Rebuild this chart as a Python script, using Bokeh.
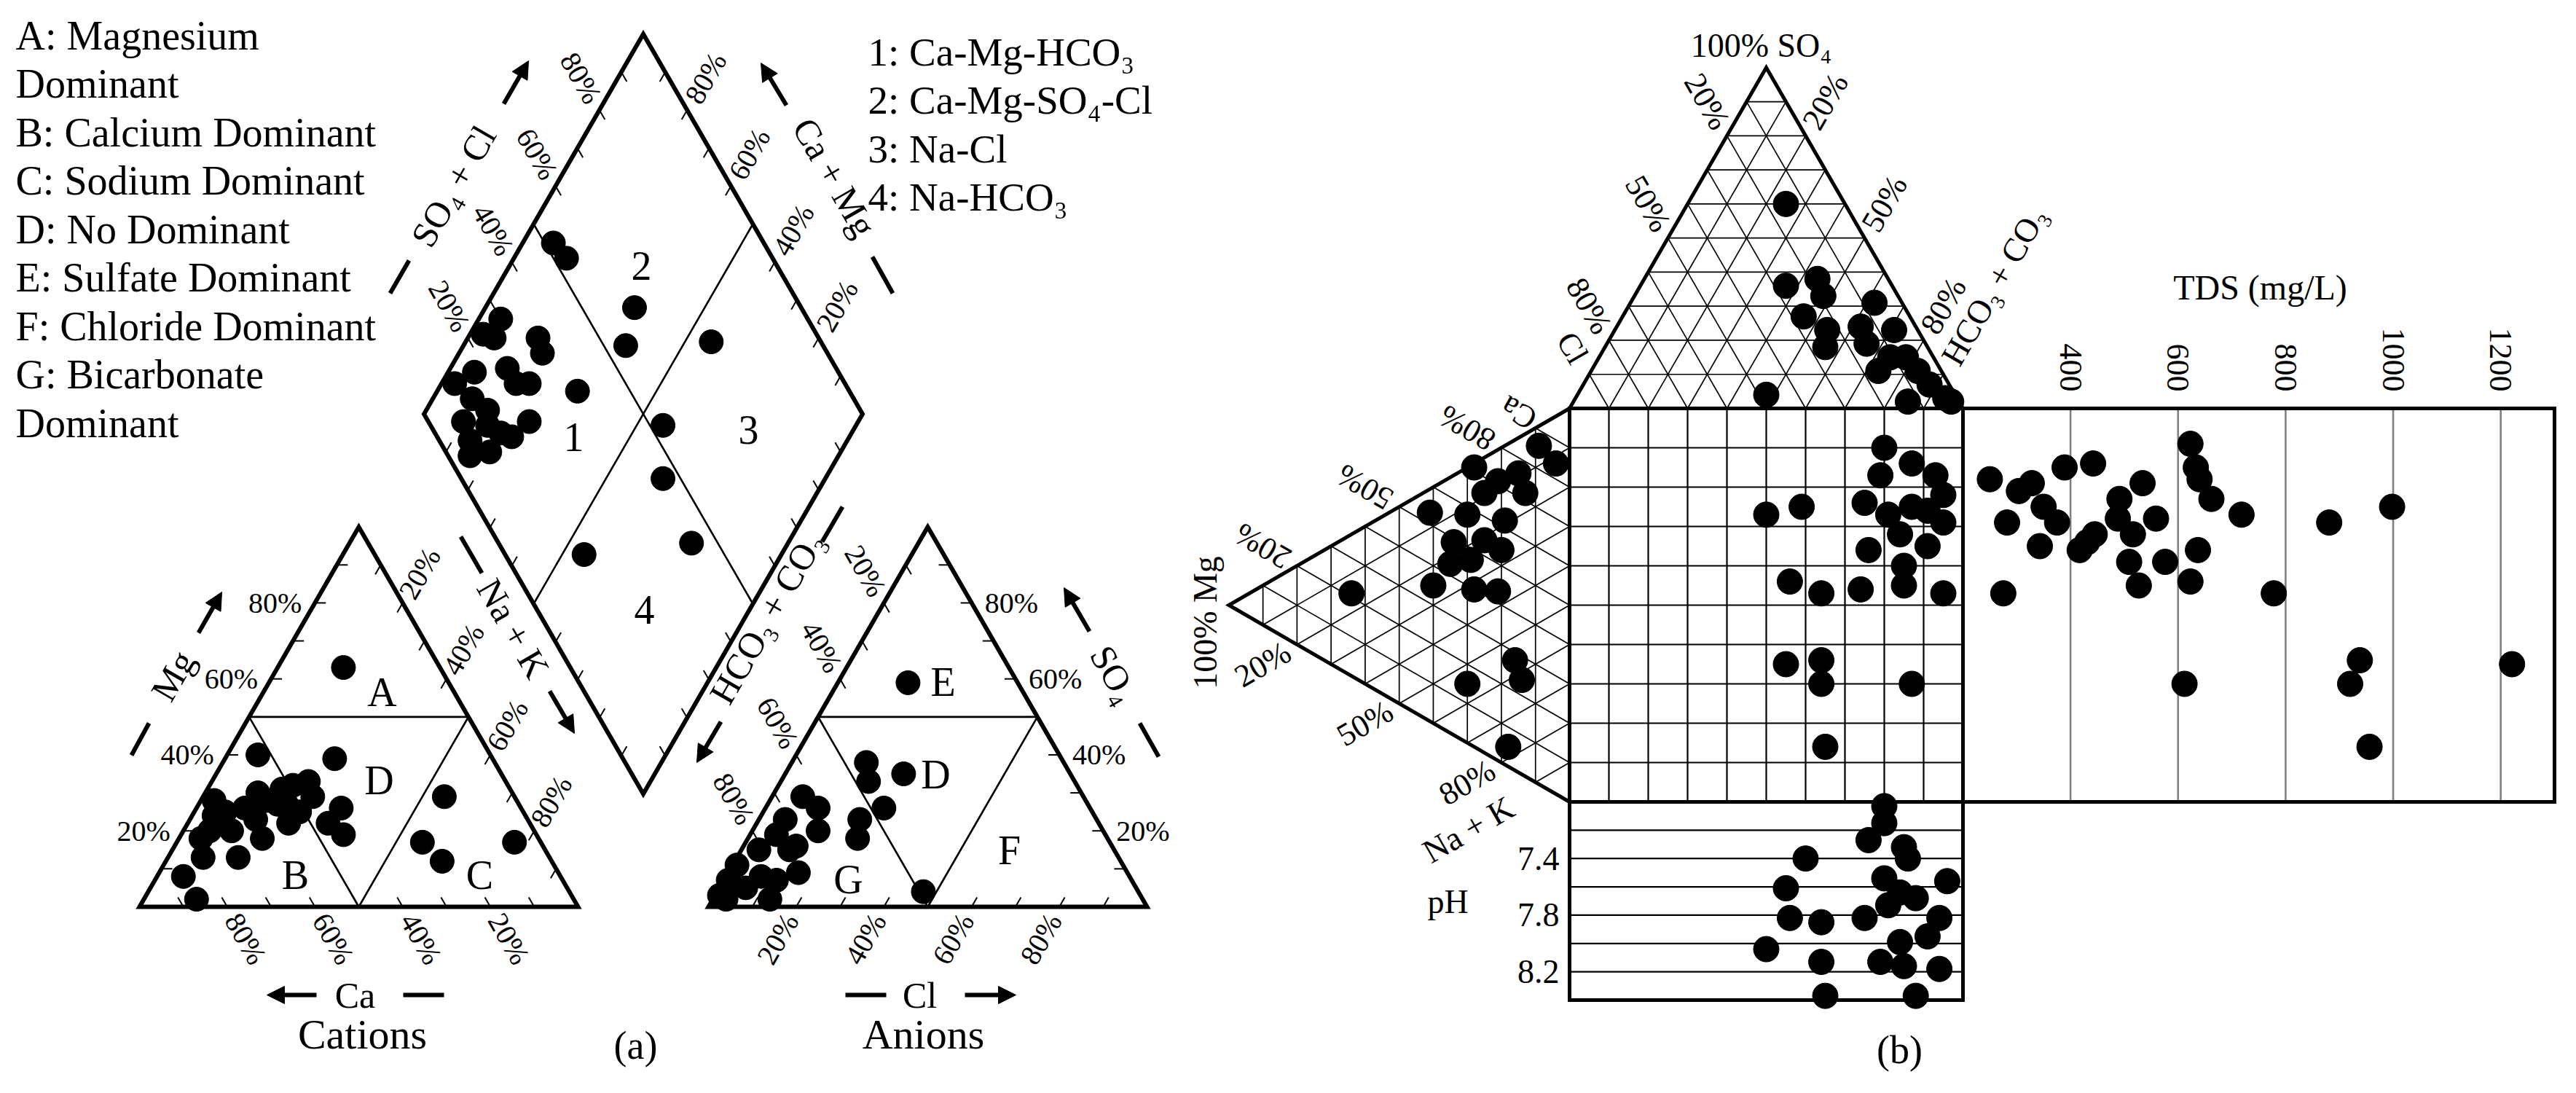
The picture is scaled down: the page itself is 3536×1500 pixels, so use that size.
import numpy as np
from bokeh.plotting import figure
from bokeh.models import Range1d, Arrow, NormalHead
from bokeh.core.properties import value
from bokeh.embed import file_html
from bokeh.resources import INLINE

FONT = "Liberation Serif"

# ---------------------------------------------------------------- data
# (a) Piper diagram -- cation triangle (% meq/L), Ca = 100 - Mg - (Na+K)
cat_mg = [63, 40, 39, 33, 32, 28, 29, 26, 19, 22, 18, 13, 28, 25, 26, 18, 13, 8, 2, 27,
          26, 20, 23, 29, 17, 12, 17, 22, 30, 31, 25, 24, 20]
cat_nak = [15, 7, 25, 22, 19, 15, 25, 33, 37, 23, 19, 16, 3, 7, 11, 5, 8, 6, 12, 18,
           21, 11, 15, 55, 56, 63, 77, 32, 12, 17, 24, 5, 6]
# anion triangle (% meq/L), HCO3+CO3 = 100 - SO4 - Cl
an_so4 = [59, 35, 38, 33, 26, 23, 18, 4, 29, 26, 20, 9, 23, 19, 15, 11, 2, 2, 5, 7, 15, 7, 3, 8, 16]
an_cl = [16, 27, 17, 20, 27, 23, 25, 47, 7, 12, 15, 16, 6, 6, 4, 1, 3, 13, 6, 12, 11, 1, 1, 8, 12]
# central diamond: Na+K (%) and SO4+Cl (%)
dia_nak = [7, 12, 34, 37, 56, 32, 56, 63, 78, 55, 5, 6, 16, 19, 6, 13, 20, 3, 9, 14,
           25, 23, 14, 16, 20, 20, 16, 17, 3, 10]
dia_so4cl = [52, 53, 62, 55, 75, 38, 53, 46, 44, 18, 30, 26, 36, 35, 17, 25, 28, 11, 13, 15,
             23, 17, 7, 5, 10, 15, 13, 25, 24, 8]

# (b) Durov diagram -- anion triangle (SO4 %, HCO3+CO3 %), Cl = rest
dur_so4 = [60, 36, 38, 33, 27, 23, 18, 4, 31, 24, 23, 11, 15, 7, 3, 2, 11, 19, 15, 2]
dur_hco3 = [25, 37, 44, 48, 46, 54, 56, 48, 62, 62, 71, 73, 78, 88, 94, 85, 83, 66, 74, 96]
# cation triangle (Mg %, Na+K %), Ca = rest
dur_mg = [41, 64, 40, 28, 21, 16, 14, 30, 18, 9, 4, 28, 21, 13, 30, 19, 34, 25, 35, 20, 29, 25, 15]
dur_nak = [6, 15, 25, 32, 36, 56, 62, 55, 77, 5, 12, 1, 8, 15, 12, 19, 17, 21, 22, 26, 24, 9, 9]
# central square: anion axis (%), cation axis (%)
sq_anion = [80, 79, 75, 76, 87, 93, 95, 95, 91, 85, 85, 95, 74, 64, 56, 50, 59, 81, 87, 84,
            91, 55, 64, 64, 87, 65]
sq_cation = [10, 17, 24, 36, 14, 17, 22, 29, 35, 40, 45, 47, 46, 47, 44, 27, 25, 27, 25, 32,
             26, 65, 64, 70, 70, 86]
# TDS panel: TDS (mg/L) against cation axis (%)
tds_mgL = [250, 304, 328, 282, 350, 375, 343, 389, 442, 417, 445, 491, 516, 534, 559, 509, 527,
           576, 623, 633, 640, 662, 637, 623, 718, 778, 881, 998, 275, 612, 938, 920, 1221, 956,
           488, 431]
tds_cation = [18, 21, 19, 29, 25, 29, 35, 15, 14, 36, 32, 23, 32, 19, 28, 39, 45, 39, 9, 15, 18,
              23, 36, 44, 27, 47, 29, 25, 47, 70, 64, 70, 65, 86, 28, 34]
# pH panel: anion axis (%) against pH
ph_anion = [80, 80, 76, 60, 85, 86, 55, 56, 64, 50, 64, 65, 88, 80, 96, 75, 88, 94, 91, 79,
            85, 94, 84, 84, 81]
ph_value = [7.03, 7.15, 7.27, 7.40, 7.32, 7.40, 7.61, 7.82, 7.85, 8.04, 8.13, 8.37, 8.37, 7.54,
            7.56, 7.82, 7.68, 7.82, 7.95, 8.13, 8.16, 8.18, 7.99, 7.64, 7.73]

piper_ticks = [20, 40, 60, 80]
durov_ticks = [20, 50, 80]
tds_ticks = [400, 600, 800, 1000, 1200]
tds_range = [200, 1300]
ph_range = [7.0, 8.4]
ph_lines = [7.2, 7.4, 7.6, 7.8, 8.0, 8.2]
ph_ticks = [7.4, 7.8, 8.2]
legend_zones = ["A: Magnesium", "Dominant", "B: Calcium Dominant", "C: Sodium Dominant",
                "D: No Dominant", "E: Sulfate Dominant", "F: Chloride Dominant",
                "G: Bicarbonate", "Dominant"]
legend_types = ["1: Ca-Mg-HCO\u2083", "2: Ca-Mg-SO\u2084-Cl", "3: Na-Cl", "4: Na-HCO\u2083"]

# ---------------------------------------------------------------- geometry
R3 = np.sqrt(3) / 2
S = 602.0
H = S * R3
CX0, BASE = 199.0, 1252.0
AX0 = 980.0
DBX = (CX0 + S + AX0) / 2
DBY = BASE - (AX0 - CX0 - S) * R3
DLX, DLY = DBX - S / 2, DBY - H

Q0X, Q0Y, D = 2162.0, 568.0, 540.0
DH = D * R3
T1X = 3514.0
PHB = 1380.0


def fr(a):
    return np.asarray(a, dtype=float) / 100.0


def cat_xy(mg, nak):
    return CX0 + S * (nak + mg / 2), BASE - H * mg


def an_xy(so4, cl):
    return AX0 + S * (cl + so4 / 2), BASE - H * so4


def dia_xy(a, b):
    return DLX + S / 2 * (a + b), DLY + H * (a - b)


def top_xy(so4, hco3):
    return Q0X + D * (hco3 + so4 / 2), Q0Y - DH * so4


def left_xy(mg, nak):
    return Q0X - DH * mg, Q0Y + D * (nak + mg / 2)


def sq_xy(ax, cy):
    return Q0X + D * ax, Q0Y + D * cy


def tds_x(t):
    t = np.asarray(t, dtype=float)
    return Q0X + D + (t - tds_range[0]) / (tds_range[1] - tds_range[0]) * (T1X - Q0X - D)


def ph_y(v):
    v = np.asarray(v, dtype=float)
    return Q0Y + D + (v - ph_range[0]) / (ph_range[1] - ph_range[0]) * (PHB - Q0Y - D)


p = figure(width=3520, height=1484, x_range=Range1d(8, 3528), y_range=Range1d(1492, 8),
           output_backend="svg", toolbar_location=None, min_border=0,
           x_axis_location=None, y_axis_location=None)
p.xgrid.visible = False
p.ygrid.visible = False
p.outline_line_color = None
p.background_fill_color = "white"


def segs(seglist, width, color="black"):
    xs = [[float(a[0]), float(b[0])] for a, b in seglist]
    ys = [[float(a[1]), float(b[1])] for a, b in seglist]
    p.multi_line(xs, ys, line_width=width, line_color=color, line_cap="butt")


def closed(pts, width):
    p.patch([float(q[0]) for q in pts], [float(q[1]) for q in pts], fill_color=None,
            line_color="black", line_width=width, line_join="miter")


def openline(pts, width):
    p.line([float(q[0]) for q in pts], [float(q[1]) for q in pts], line_color="black",
           line_width=width, line_join="miter")


def txt(xs, ys, labels, size, angle=0.0, align="center", baseline="middle"):
    p.text(x=[float(v) for v in np.atleast_1d(xs)], y=[float(v) for v in np.atleast_1d(ys)],
           text=list(labels), angle=float(np.deg2rad(angle)), text_align=align,
           text_baseline=baseline, text_font=value(FONT), text_font_size=f"{size}px",
           text_color="black")


def add(P, d, k):
    return (P[0] + d[0] * k, P[1] + d[1] * k)


def arrow(x0, y0, x1, y1):
    p.add_layout(Arrow(x_start=x0, y_start=y0, x_end=x1, y_end=y1, line_width=6,
                       line_color="black",
                       end=NormalHead(size=24, fill_color="black", line_color="black",
                                      line_width=1)))


UP_R = (0.5, -R3)    # screen direction reading at +60 deg
DN_R = (0.5, R3)     # reading at -60 deg
DN_L = (-0.5, R3)
UP_L = (-0.5, -R3)

# ---------------------------------------------------------------- (a) Piper
closed([cat_xy(0, 0), cat_xy(0, 1), cat_xy(1, 0)], 6)
closed([an_xy(0, 0), an_xy(0, 1), an_xy(1, 0)], 6)
closed([dia_xy(0, 0), dia_xy(0, 1), dia_xy(1, 1), dia_xy(1, 0)], 6)

zone = [(cat_xy(.5, 0), cat_xy(.5, .5)), (cat_xy(.5, 0), cat_xy(0, .5)), (cat_xy(.5, .5), cat_xy(0, .5)),
        (an_xy(.5, 0), an_xy(.5, .5)), (an_xy(.5, 0), an_xy(0, .5)), (an_xy(.5, .5), an_xy(0, .5)),
        (dia_xy(0, .5), dia_xy(1, .5)), (dia_xy(.5, 0), dia_xy(.5, 1))]
segs(zone, 2.6)

TK = 15
ticks = []
for t in np.arange(1, 10) / 10:
    P = cat_xy(t, 0); ticks.append((P, add(P, (1, 0), TK)))
    P = cat_xy(t, 1 - t); ticks.append((P, add(P, DN_L, TK)))
    P = cat_xy(0, t); ticks.append((P, add(P, UP_L, TK)))
    P = an_xy(0, t); ticks.append((P, add(P, UP_R, TK)))
    P = an_xy(t, 1 - t); ticks.append((P, add(P, (-1, 0), TK)))
    P = an_xy(t, 0); ticks.append((P, add(P, DN_R, TK)))
    P = dia_xy(0, t); ticks.append((P, add(P, DN_R, TK)))
    P = dia_xy(t, 1); ticks.append((P, add(P, DN_L, TK)))
    P = dia_xy(t, 0); ticks.append((P, add(P, UP_R, TK)))
    P = dia_xy(1, t); ticks.append((P, add(P, UP_L, TK)))
segs(ticks, 2)

# Piper tick labels
TS = 40
pt = fr(piper_ticks)
labs = [f"{v}%" for v in piper_ticks]
X, Y = cat_xy(pt, 0 * pt)
txt(X - 18, Y, labs, TS, 0, "right")
X, Y = cat_xy(1 - pt, pt)
txt(X + 10 * UP_R[0], Y + 10 * UP_R[1], labs, TS, 60, "left")
X, Y = cat_xy(0 * pt, 1 - pt)
txt(X + 14 * DN_R[0], Y + 14 * DN_R[1], labs, TS, -60, "left")
X, Y = an_xy(0 * pt, pt)
txt(X - 14 * UP_R[0], Y - 14 * UP_R[1], labs, TS, 60, "right")
X, Y = an_xy(pt, 1 - pt)
txt(X + 18, Y, labs, TS, 0, "left")
X, Y = an_xy(1 - pt, 0 * pt)
txt(X - 14 * DN_R[0], Y - 14 * DN_R[1], labs, TS, -60, "right")
X, Y = dia_xy(0 * pt, pt)
txt(X - 14 * DN_R[0], Y - 14 * DN_R[1], labs, TS, -60, "right")
X, Y = dia_xy(1 - pt, 0 * pt + 1)
txt(X + 14 * UP_R[0], Y + 14 * UP_R[1], labs, TS, 60, "left")

# axis titles, arrows and dashes
txt([245], [935], ["Mg"], 50, 60)
txt([495], [1373], ["Ca"], 50, 0)
txt([1270], [1373], ["Cl"], 50, 0)
txt([712], [870], ["Na + K"], 50, -60)
txt([1060], [855], ["HCO\u2083 + CO\u2083"], 50, 60)
txt([1537], [933], ["SO\u2084"], 50, -60)
txt([630], [263], ["SO\u2084 + Cl"], 50, 60)
txt([1153], [251], ["Ca + Mg"], 50, -60)
arrow(280, 876, 312, 820)
arrow(442, 1373, 374, 1373)
arrow(1332, 1373, 1402, 1373)
arrow(762, 956, 796, 1014)
arrow(997, 998, 964, 1054)
arrow(1503, 874, 1468, 814)
arrow(699, 150, 733, 91)
arrow(1087, 152, 1052, 94)
segs([((188, 1044), (212, 1000)), ((561, 1373), (617, 1373)), ((1168, 1373), (1224, 1373)),
      ((640, 744), (669, 794)), ((1136, 751), (1164, 703)), ((1572, 1000), (1598, 1046)),
      ((543, 410), (569, 365)), ((1205, 360), (1233, 410))], 6)

# zone letters
txt([532, 413, 666, 528, 1302, 1292, 1393, 1172], [957, 1208, 1208, 1078, 943, 1070, 1174, 1214],
    ["A", "B", "C", "D", "E", "D", "F", "G"], 56)
txt([795, 888, 1035, 892], [607, 372, 597, 844], ["1", "2", "3", "4"], 56)

# legends
txt([29] * len(legend_zones), [56 + 66.5 * i for i in range(len(legend_zones))], legend_zones, 56,
    0, "left")
txt([1199] * len(legend_types), [79 + 66.3 * i for i in range(len(legend_types))], legend_types, 55,
    0, "left")
txt([505, 1275], [1427, 1427], ["Cations", "Anions"], 58)
txt([880], [1442], ["(a)"], 54)

# data points (a)
X, Y = cat_xy(fr(cat_mg), fr(cat_nak))
p.scatter(X, Y, size=33, color="black")
X, Y = an_xy(fr(an_so4), fr(an_cl))
p.scatter(X, Y, size=33, color="black")
X, Y = dia_xy(fr(dia_nak), fr(dia_so4cl))
p.scatter(X, Y, size=33, color="black")

# ---------------------------------------------------------------- (b) Durov
grid = []
for t in np.arange(1, 10) / 10:
    grid.append((top_xy(t, 0), top_xy(t, 1 - t)))
    grid.append((top_xy(0, t), top_xy(1 - t, t)))
    grid.append((top_xy(0, 1 - t), top_xy(1 - t, 0)))
    grid.append((left_xy(t, 0), left_xy(t, 1 - t)))
    grid.append((left_xy(0, t), left_xy(1 - t, t)))
    grid.append((left_xy(0, 1 - t), left_xy(1 - t, 0)))
segs(grid, 1.7)
sq = []
for t in np.arange(1, 10) / 10:
    sq.append((sq_xy(t, 0), sq_xy(t, 1)))
    sq.append((sq_xy(0, t), sq_xy(1, t)))
segs(sq, 2.2)
segs([((Q0X, float(ph_y(v))), (Q0X + D, float(ph_y(v)))) for v in ph_lines], 2.2)
segs([((float(tds_x(t)), Q0Y), (float(tds_x(t)), Q0Y + D)) for t in tds_ticks], 2.6, "#808080")

openline([top_xy(0, 0), top_xy(1, 0), top_xy(0, 1)], 5)
openline([left_xy(0, 0), left_xy(1, 0), left_xy(0, 1)], 5)
closed([(Q0X, Q0Y), (Q0X + D, Q0Y), (Q0X + D, Q0Y + D), (Q0X, Q0Y + D)], 5)
openline([(Q0X + D, Q0Y), (T1X, Q0Y), (T1X, Q0Y + D), (Q0X + D, Q0Y + D)], 5)
openline([(Q0X, Q0Y + D), (Q0X, PHB), (Q0X + D, PHB), (Q0X + D, Q0Y + D)], 5)

dt = fr(durov_ticks)
dl = [f"{v}%" for v in durov_ticks]
X, Y = top_xy(1 - dt, 0 * dt)
txt(X - 14 * DN_R[0], Y - 14 * DN_R[1], dl, 44, -60, "right")
X, Y = top_xy(1 - dt, dt)
txt(X + 14 * UP_R[0], Y + 14 * UP_R[1], dl, 44, 60, "left")
X, Y = left_xy(1 - dt, 0 * dt)
txt(X - 14 * R3, Y - 14 * 0.5, dl, 44, 150, "left")
X, Y = left_xy(1 - dt, dt)
txt(X - 14 * R3, Y + 14 * 0.5, dl, 44, 30, "right")

txt([2425], [70], ["100% SO\u2084"], 46)
txt([2166], [485], ["Cl"], 44, -60)
txt([2684], [505], ["HCO\u2083 + CO\u2083"], 46, 60, "left")
txt([2092], [574], ["Ca"], 44, 150)
txt([1662], [862], ["100% Mg"], 46, 90)
txt([2023], [1146], ["Na + K"], 46, 30)

txt([3110], [402], ["TDS (mg/L)"], 48)
txt(tds_x(tds_ticks), [545] * len(tds_ticks), [str(v) for v in tds_ticks], 44, -90, "right")
txt([2148] * len(ph_ticks), ph_y(ph_ticks), [f"{v:.1f}" for v in ph_ticks], 46, 0, "right")
txt([1995], [1245], ["pH"], 46)
txt([2615], [1448], ["(b)"], 54)

X, Y = top_xy(fr(dur_so4), fr(dur_hco3))
p.scatter(X, Y, size=35, color="black")
X, Y = left_xy(fr(dur_mg), fr(dur_nak))
p.scatter(X, Y, size=35, color="black")
X, Y = sq_xy(fr(sq_anion), fr(sq_cation))
p.scatter(X, Y, size=35, color="black")
p.scatter(tds_x(tds_mgL), Q0Y + D * fr(tds_cation), size=35, color="black")
p.scatter(Q0X + D * fr(ph_anion), ph_y(ph_value), size=35, color="black")

open("out.html", "w").write(file_html(p, INLINE))
